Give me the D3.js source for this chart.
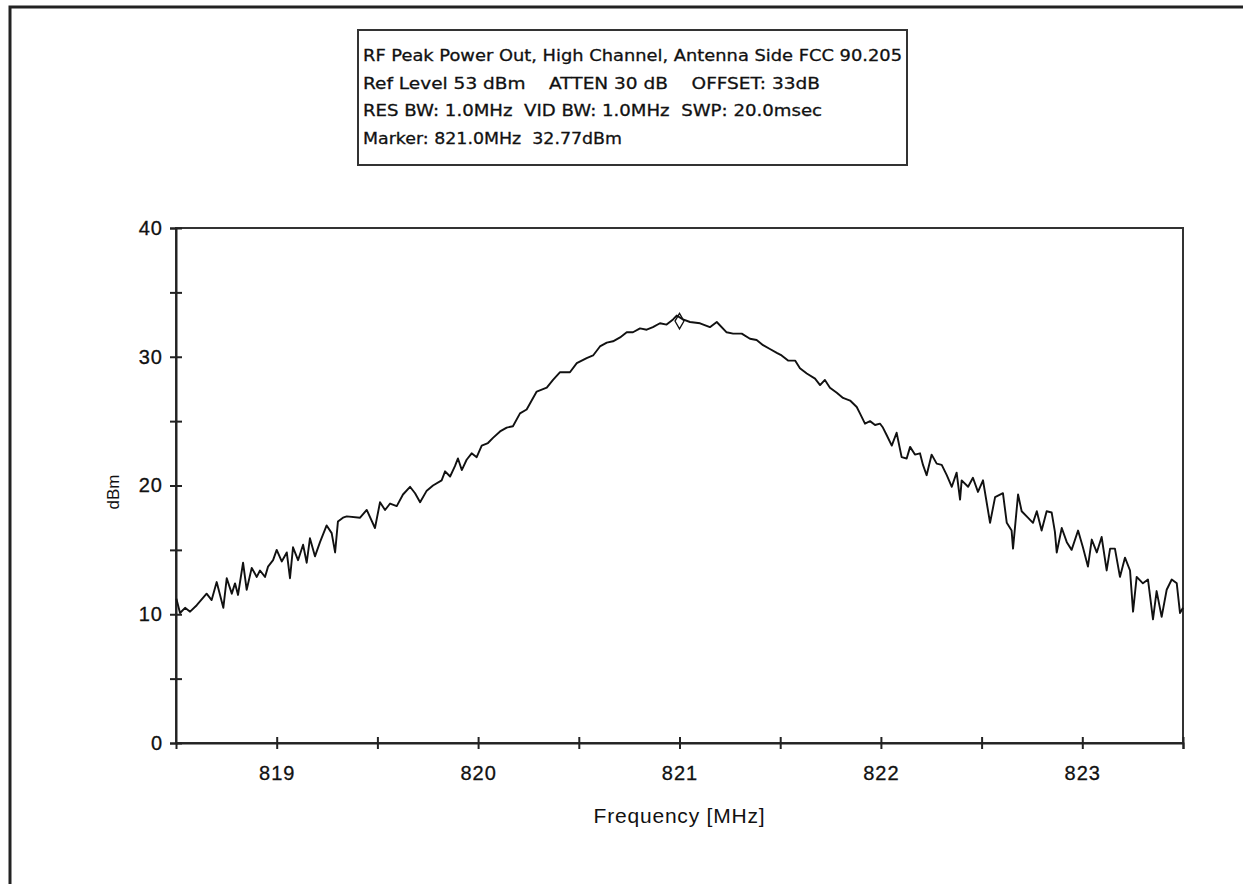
<!DOCTYPE html>
<html>
<head>
<meta charset="utf-8">
<script src="https://cdn.jsdelivr.net/npm/d3@7"></script>
<style>
  body { margin: 0; background: #fff; }
  svg text { font-family: "Liberation Sans", Arial, sans-serif; fill: #111; }
</style>
</head>
<body>
<div id="chart"></div>
<script>
// trace (MHz / dBm)
var freq = [
  818.502, 818.520, 818.545, 818.570, 818.603, 818.652, 818.677, 818.702, 818.735, 818.752,
  818.777, 818.793, 818.808, 818.833, 818.851, 818.876, 818.901, 818.917, 818.942, 818.957,
  818.982, 819.000, 819.025, 819.050, 819.066, 819.081, 819.106, 819.131, 819.149, 819.165,
  819.190, 819.215, 819.248, 819.273, 819.290, 819.304, 819.329, 819.348, 819.414, 819.447,
  819.488, 819.513, 819.538, 819.563, 819.596, 819.627, 819.662, 819.687, 819.712, 819.745,
  819.776, 819.819, 819.836, 819.861, 819.885, 819.900, 819.919, 819.943, 819.968, 819.993,
  820.018, 820.049, 820.074, 820.109, 820.142, 820.173, 820.208, 820.241, 820.291, 820.341,
  820.372, 820.407, 820.456, 820.490, 820.539, 820.571, 820.605, 820.639, 820.670, 820.705,
  820.738, 820.769, 820.804, 820.837, 820.868, 820.903, 820.936, 820.968, 820.986, 821.017,
  821.052, 821.102, 821.151, 821.185, 821.234, 821.266, 821.309, 821.350, 821.383, 821.415,
  821.449, 821.483, 821.507, 821.539, 821.574, 821.598, 821.632, 821.673, 821.698, 821.722,
  821.747, 821.781, 821.812, 821.847, 821.880, 821.896, 821.921, 821.946, 821.971, 821.996,
  822.010, 822.029, 822.054, 822.078, 822.103, 822.128, 822.145, 822.169, 822.194, 822.209,
  822.227, 822.252, 822.277, 822.302, 822.327, 822.352, 822.376, 822.393, 822.401, 822.433,
  822.457, 822.482, 822.507, 822.525, 822.542, 822.567, 822.606, 822.625, 822.649, 822.656,
  822.681, 822.699, 822.730, 822.755, 822.774, 822.798, 822.823, 822.848, 822.864, 822.873,
  822.898, 822.923, 822.947, 822.979, 823.003, 823.028, 823.047, 823.072, 823.096, 823.121,
  823.138, 823.162, 823.187, 823.212, 823.237, 823.252, 823.270, 823.301, 823.326, 823.351,
  823.369, 823.394, 823.419, 823.444, 823.469, 823.485, 823.500
]
var dbm = [
  11.2, 10.1, 10.5, 10.2, 10.7, 11.6, 11.1, 12.5, 10.5, 12.8,
  11.6, 12.4, 11.5, 14.0, 11.9, 13.6, 12.9, 13.4, 12.9, 13.7,
  14.2, 15.0, 14.1, 14.8, 12.8, 15.2, 14.2, 15.4, 14.0, 15.9,
  14.5, 15.6, 16.9, 16.3, 14.8, 17.2, 17.5, 17.6, 17.5, 18.1,
  16.7, 18.7, 18.1, 18.6, 18.4, 19.3, 19.9, 19.4, 18.7, 19.6,
  20.0, 20.4, 21.1, 20.7, 21.5, 22.1, 21.2, 22.0, 22.5, 22.2,
  23.1, 23.3, 23.7, 24.2, 24.5, 24.6, 25.6, 25.9, 27.3, 27.6,
  28.2, 28.8, 28.8, 29.5, 29.9, 30.1, 30.8, 31.1, 31.2, 31.5,
  31.9, 31.9, 32.2, 32.1, 32.3, 32.6, 32.5, 32.9, 33.2, 32.9,
  32.7, 32.6, 32.3, 32.7, 31.9, 31.8, 31.8, 31.4, 31.3, 30.9,
  30.6, 30.3, 30.1, 29.7, 29.7, 29.1, 28.7, 28.3, 27.8, 28.2,
  27.6, 27.2, 26.8, 26.6, 26.1, 25.6, 24.8, 25.0, 24.7, 24.8,
  24.5, 23.9, 23.1, 24.1, 22.2, 22.1, 23.0, 22.4, 22.5, 21.6,
  20.8, 22.4, 21.7, 21.6, 20.8, 19.9, 21.0, 18.9, 20.4, 19.9,
  20.6, 19.5, 20.4, 18.7, 17.1, 19.1, 19.4, 17.1, 16.5, 15.1,
  19.3, 18.0, 17.5, 17.1, 18.0, 16.5, 18.0, 17.9, 16.4, 14.8,
  16.7, 15.6, 15.0, 16.5, 15.2, 13.7, 15.8, 14.8, 16.0, 13.4,
  15.1, 15.1, 12.9, 14.4, 13.4, 10.2, 12.9, 12.4, 12.7, 9.6,
  11.8, 9.8, 11.9, 12.7, 12.4, 10.1, 10.5
]

var xTicks = [819, 820, 821, 822, 823]
var yTicks = [0, 10, 20, 30, 40]
var markerFreq = 821.0
var markerLevel = 32.77

var infoLines = [
  "RF Peak Power Out, High Channel, Antenna Side FCC 90.205",
  "Ref Level 53 dBm    ATTEN 30 dB    OFFSET: 33dB",
  "RES BW: 1.0MHz  VID BW: 1.0MHz  SWP: 20.0msec",
  "Marker: 821.0MHz  32.77dBm"
]
var infoWidths = [539, 457, 459, 259]

var margin = {top: 228, right: 63, bottom: 145, left: 176}
var width = 1246 - margin.left - margin.right
var height = 888 - margin.top - margin.bottom

var root = d3.select("#chart")
  .append("svg")
  .attr("width", 1246)
  .attr("height", 888)

// outer frame (left + top edges visible in the scan)
root.append("path")
  .attr("d", "M10,884 L10,7 L1243,7")
  .attr("fill", "none")
  .attr("stroke", "#222")
  .attr("stroke-width", 3)

// info box
var info = root.append("g")
info.append("rect")
  .attr("x", 358).attr("y", 30)
  .attr("width", 549).attr("height", 135)
  .attr("fill", "#fff")
  .attr("stroke", "#333")
  .attr("stroke-width", 2)

info.selectAll("text")
  .data(infoLines)
  .enter().append("text")
  .attr("x", 363)
  .attr("y", function(d, i) { return 61 + i * 27.5 })
  .attr("textLength", function(d, i) { return infoWidths[i] })
  .attr("lengthAdjust", "spacingAndGlyphs")
  .style("white-space", "pre")
  .style("font-size", "16px")
  .style("font-family", "'DejaVu Sans', sans-serif")
  .style("stroke", "#111")
  .style("stroke-width", 0.3)
  .text(function(d) { return d })

var svg = root.append("g")
  .attr("transform", "translate(" + margin.left + "," + margin.top + ")")

var x = d3.scaleLinear()
  .domain([818.5, 823.5])
  .range([0, width])

var y = d3.scaleLinear()
  .domain([0, 40])
  .range([height, 0])

// plot frame
svg.append("rect")
  .attr("width", width)
  .attr("height", height)
  .attr("fill", "none")
  .attr("stroke", "#333")
  .attr("stroke-width", 2)

// x axis, ticks every 0.5 MHz crossing the axis line
var xAxis = svg.append("g")
  .attr("transform", "translate(0," + height + ")")
  .call(d3.axisBottom(x)
    .tickValues(d3.range(819, 823.6, 0.5))
    .tickFormat(function(d) { return xTicks.indexOf(d) >= 0 ? d : "" })
    .tickSize(6)
    .tickPadding(17))
xAxis.select(".domain").attr("stroke", "#222").attr("stroke-width", 2)
xAxis.selectAll(".tick line").attr("y1", -6).attr("stroke", "#222").attr("stroke-width", 2)
xAxis.selectAll("text").style("font-size", "20px").style("letter-spacing", "1px")
  .attr("fill", "#111").style("stroke", "#111").style("stroke-width", 0.3)

var yAxis = svg.append("g")
  .call(d3.axisLeft(y)
    .tickValues(d3.range(0, 41, 5))
    .tickFormat(function(d) { return yTicks.indexOf(d) >= 0 ? d : "" })
    .tickSize(6)
    .tickPadding(7))
yAxis.select(".domain").attr("stroke", "#222").attr("stroke-width", 2)
yAxis.selectAll(".tick line").attr("x1", 6).attr("stroke", "#222").attr("stroke-width", 2)
yAxis.selectAll("text").style("font-size", "20px").style("letter-spacing", "1px")
  .attr("fill", "#111").style("stroke", "#111").style("stroke-width", 0.3)

// axis titles
svg.append("text")
  .attr("x", x(821))
  .attr("y", height + 80)
  .attr("text-anchor", "middle")
  .style("font-size", "21px")
  .style("letter-spacing", "0.8px")
  .text("Frequency [MHz]")

svg.append("text")
  .attr("transform", "translate(" + (-57) + "," + (y(19.5)) + ") rotate(-90)")
  .attr("text-anchor", "middle")
  .style("font-size", "17px")
  .text("dBm")

// trace
var trace = freq.map(function(f, i) { return {f: f, v: dbm[i]} })

svg.append("path")
  .datum(trace)
  .attr("fill", "none")
  .attr("stroke", "#111")
  .attr("stroke-width", 1.9)
  .attr("stroke-linejoin", "round")
  .attr("d", d3.line()
    .x(function(d) { return x(d.f) })
    .y(function(d) { return y(d.v) }))

// marker diamond
svg.append("path")
  .attr("transform", "translate(" + x(markerFreq) + "," + y(markerLevel) + ")")
  .attr("d", d3.symbol().type(d3.symbolDiamond).size(70))
  .attr("fill", "none")
  .attr("stroke", "#111")
  .attr("stroke-width", 1.3)
</script>
</body>
</html>
